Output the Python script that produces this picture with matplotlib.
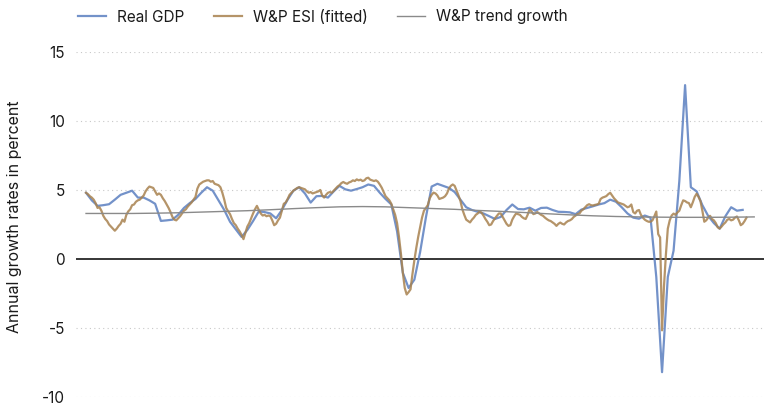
import matplotlib
matplotlib.use("Agg")
import matplotlib.pyplot as plt
import numpy as np

plt.rcParams['font.family'] = ['Inter', 'DejaVu Sans']

# Quarterly real GDP growth (y/y, %), 115 quarters
gdp = [4.8, 4.25, 3.85, 3.9, 3.97, 4.3, 4.65, 4.8, 4.95, 4.45,
       4.45, 4.25, 4.0, 2.76, 2.8, 2.85, 3.2, 3.7, 4.05, 4.35,
       4.8, 5.2, 4.95, 4.25, 3.55, 2.7, 2.15, 1.6, 2.1, 2.75,
       3.45, 3.4, 3.3, 2.95, 3.55, 4.3, 4.95, 5.2, 4.75, 4.09,
       4.55, 4.57, 4.45, 4.9, 5.3, 5.05, 4.95, 5.07, 5.2, 5.4,
       5.3, 4.8, 4.35, 3.95, 2.0, -1.0, -2.1, -1.5, 0.5, 3.0,
       5.25, 5.45, 5.3, 5.15, 4.85, 4.3, 3.75, 3.55, 3.42, 3.3,
       3.1, 2.9, 3.05, 3.55, 3.95, 3.62, 3.6, 3.72, 3.5, 3.7,
       3.72, 3.55, 3.42, 3.41, 3.38, 3.25, 3.58, 3.7, 3.82, 3.95,
       4.05, 4.3, 4.15, 3.75, 3.3, 3.0, 2.92, 3.15, 3.0, -1.3,
       -8.2, -1.3, 0.6, 5.65, 12.6, 5.2, 4.9, 3.9, 3.13, 2.6,
       2.2, 3.1, 3.75, 3.5, 3.56]

# Monthly W&P ESI (fitted), 345 months
esi = [4.8, 4.7, 4.55, 4.45, 4.3, 4.05, 3.7, 3.75, 3.5, 3.13,
       2.9, 2.75, 2.5, 2.35, 2.2, 2.05, 2.2, 2.4, 2.55, 2.85,
       2.7, 3.2, 3.45, 3.6, 3.9, 3.95, 4.15, 4.25, 4.3, 4.45,
       4.6, 4.9, 5.1, 5.25, 5.2, 5.15, 4.9, 4.65, 4.75, 4.65,
       4.4, 4.2, 3.95, 3.7, 3.4, 3.05, 2.85, 2.8, 2.95, 3.1,
       3.3, 3.5, 3.6, 3.8, 3.95, 4.1, 4.3, 4.5, 5.1, 5.4,
       5.5, 5.6, 5.65, 5.7, 5.7, 5.6, 5.65, 5.45, 5.4, 5.35,
       5.2, 4.8, 4.3, 3.7, 3.45, 3.25, 2.9, 2.6, 2.45, 2.2,
       2.0, 1.75, 1.44, 1.9, 2.35, 2.6, 2.95, 3.3, 3.6, 3.85,
       3.55, 3.3, 3.15, 3.2, 3.1, 3.15, 3.1, 2.8, 2.45, 2.55,
       2.8, 3.0, 3.5, 4.0, 4.1, 4.35, 4.65, 4.8, 4.95, 5.05,
       5.15, 5.2, 5.15, 5.1, 5.05, 4.9, 4.8, 4.85, 4.75, 4.8,
       4.85, 4.9, 5.0, 4.6, 4.45, 4.65, 4.8, 4.85, 4.8, 4.95,
       5.1, 5.25, 5.35, 5.5, 5.58, 5.5, 5.45, 5.55, 5.6, 5.7,
       5.65, 5.77, 5.7, 5.75, 5.65, 5.7, 5.85, 5.89, 5.75, 5.7,
       5.65, 5.7, 5.6, 5.4, 5.17, 4.85, 4.55, 4.4, 4.25, 4.0,
       3.6, 3.2, 2.6, 1.6, 0.4, -1.0, -2.1, -2.57, -2.4, -2.2,
       -1.1, -0.1, 0.8, 1.6, 2.3, 3.0, 3.5, 3.7, 3.9, 4.4,
       4.65, 4.81, 4.75, 4.6, 4.35, 4.4, 4.45, 4.55, 4.75, 5.1,
       5.3, 5.4, 5.3, 4.95, 4.6, 4.2, 3.6, 3.2, 2.85, 2.75,
       2.65, 2.85, 3.0, 3.2, 3.3, 3.45, 3.35, 3.15, 2.9, 2.7,
       2.45, 2.5, 2.75, 2.95, 3.12, 3.3, 3.3, 3.05, 2.8, 2.55,
       2.4, 2.45, 2.85, 3.1, 3.3, 3.25, 3.2, 3.05, 2.95, 2.9,
       3.2, 3.6, 3.45, 3.25, 3.3, 3.4, 3.3, 3.2, 3.13, 3.0,
       2.89, 2.8, 2.75, 2.65, 2.55, 2.4, 2.55, 2.64, 2.55, 2.5,
       2.65, 2.75, 2.8, 2.89, 3.05, 3.15, 3.25, 3.3, 3.5, 3.6,
       3.75, 3.9, 3.97, 3.9, 3.88, 3.92, 3.95, 4.0, 4.35, 4.45,
       4.5, 4.56, 4.7, 4.8, 4.6, 4.4, 4.25, 4.1, 4.05, 4.0,
       3.95, 3.85, 3.75, 3.8, 3.95, 3.4, 3.3, 3.5, 3.55, 3.2,
       3.0, 2.85, 2.76, 2.7, 2.7, 2.8, 3.1, 3.44, 1.8, 1.56,
       -5.17, -2.0, 0.3, 2.2, 2.8, 3.15, 3.29, 3.2, 3.37, 3.5,
       3.9, 4.25, 4.2, 4.1, 4.05, 3.75, 4.1, 4.5, 4.73, 4.5,
       4.2, 3.5, 2.7, 2.8, 3.0, 3.13, 2.9, 2.8, 2.6, 2.3,
       2.2, 2.35, 2.52, 2.65, 2.85, 2.9, 2.8, 2.85, 3.0, 3.08,
       2.8, 2.45, 2.55, 2.75, 3.0]

# Annual W&P trend growth (%), 30 points
trend = [3.3, 3.3, 3.3, 3.32, 3.35, 3.4, 3.45, 3.5, 3.57, 3.65,
         3.72, 3.78, 3.8, 3.78, 3.72, 3.66, 3.6, 3.52, 3.45, 3.37,
         3.28, 3.2, 3.13, 3.08, 3.05, 3.03, 3.02, 3.02, 3.03, 3.05]

labels = ["Real GDP", "W&P ESI (fitted)", "W&P trend growth"]
yticks = [-10, -5, 0, 5, 10, 15]

q_gdp = np.arange(len(gdp))
q_esi = np.arange(len(esi)) / 3.0
q_trend = np.arange(len(trend)) * 4.0

fig = plt.figure(figsize=(7.64, 4.05), dpi=100)
ax = fig.add_axes([76/764, 1 - 397/405, 1 - 76/764, (397 - 52)/405])

for y in yticks:
    if y == 0:
        ax.axhline(0, color='black', lw=1.1, zorder=1)
    else:
        ax.axhline(y, color='#c8c8c8', lw=0.8, ls=(0, (1, 3)), zorder=0)

l1, = ax.plot(q_gdp, gdp, color='#5b7fc0', lw=1.6, alpha=0.85, zorder=3, label=labels[0])
l2, = ax.plot(q_esi, esi, color='#a8824f', lw=1.6, alpha=0.85, zorder=4, label=labels[1])
l3, = ax.plot(q_trend, trend, color='#8a8a8a', lw=1.0, zorder=5, label=labels[2])

ax.set_xlim(-1.74, 117.7)
ax.set_ylim(-10, 15)
ax.set_yticks(yticks)
ax.set_yticklabels([str(v) for v in yticks])
ax.set_xticks([])
ax.tick_params(axis='y', length=0, pad=8, labelsize=11, labelcolor='#1a1a1a')
for s in ax.spines.values():
    s.set_visible(False)

fig.text(15/764, 1 - 217/405, "Annual growth rates in percent", rotation=90,
         va='center', ha='center', fontsize=11.5, color='#1a1a1a')

fig.legend(handles=[l1, l2, l3], loc='center left', bbox_to_anchor=(78/764, 1 - 17/405),
           ncol=3, frameon=False, fontsize=11, handlelength=1.85, handletextpad=0.72,
           columnspacing=1.9, borderpad=0, borderaxespad=0, labelcolor='#1a1a1a')

fig.savefig("out.png", dpi=100)
